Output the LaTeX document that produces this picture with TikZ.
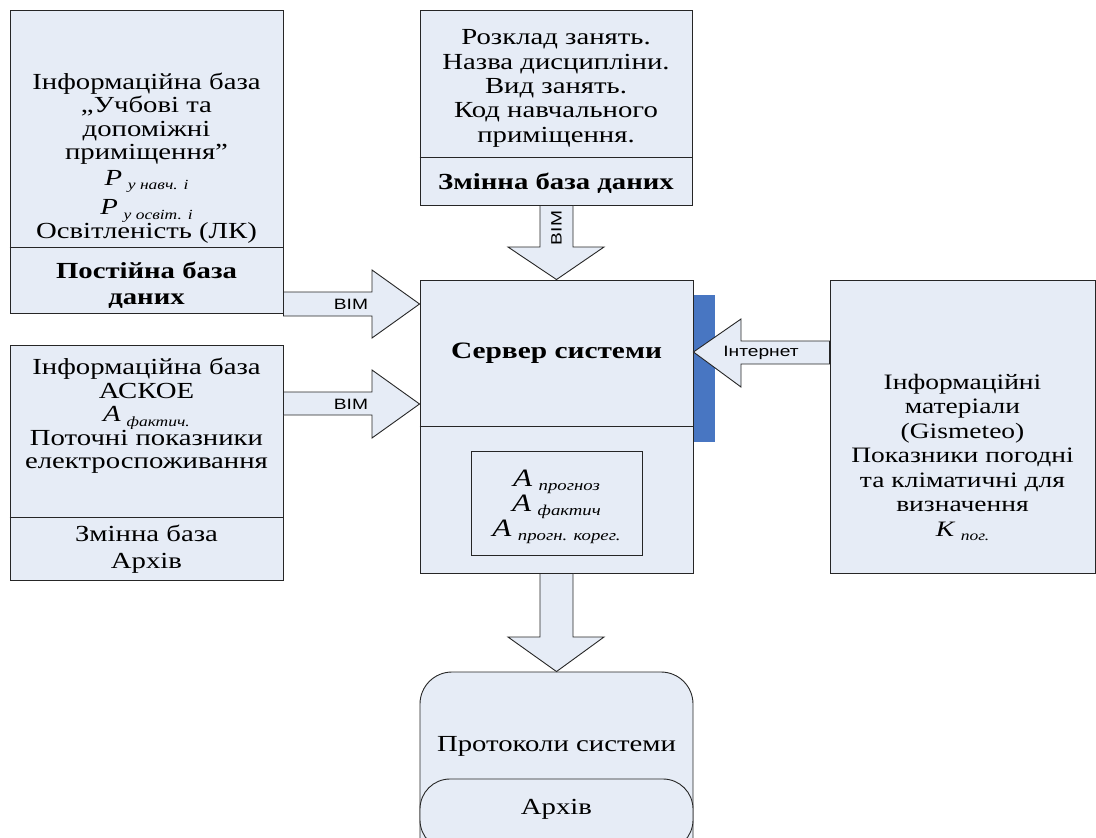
\documentclass[tikz,border=0pt]{standalone}
\usepackage{fontspec}
\setmainfont{Liberation Serif}[FakeStretch=1.25]
\newfontfamily\arialfont{Liberation Sans}[FakeStretch=1.28]
\usetikzlibrary{calc}

\definecolor{boxfill}{RGB}{230,236,246}
\definecolor{barblue}{RGB}{72,118,194}
\newcommand{\ind}[2]{\textit{#1}\hspace{0.25em}\raisebox{-0.4ex}{\fontsize{14}{14}\selectfont\itshape #2}}

\tikzset{
  blk/.style={draw=black!85, line width=0.9pt, fill=boxfill},
  sep/.style={draw=black!85, line width=0.9pt},
  txt/.style={align=center, font=\fontsize{23}{23.5}\selectfont, inner sep=0pt},
  bimlbl/.style={font=\arialfont\fontsize{15}{15}\selectfont, inner sep=0pt},
  fat/.style={blk, line join=miter},
}

\begin{document}
\begin{tikzpicture}[x=1pt, y=-1pt]
\useasboundingbox (0,0) rectangle (1096,838);
\clip (0,0) rectangle (1096,838);

% boxes
\node[blk, minimum width=273pt, minimum height=303pt] (dbA) at (146.5,161.5) {};
\draw[sep] (dbA.west |- 0,247) -- (dbA.east |- 0,247);
\node[txt] (dbAtop) at (146.5,158) {Інформаційна база\\„Учбові та\\допоміжні\\приміщення”\\[2pt]
  \ind{P}{у навч. і}\\[6pt]\ind{P}{у освіт. і}\\Освітленість (ЛК)};
\node[txt, font=\bfseries\fontsize{23}{26}\selectfont] (dbAbot) at (146.5,285) {Постійна база\\даних};

\node[blk, minimum width=273pt, minimum height=235pt] (dbB) at (146.5,462.5) {};
\draw[sep] (dbB.west |- 0,517) -- (dbB.east |- 0,517);
\node[txt] (dbBtop) at (146.5,416) {Інформаційна база\\АСКОЕ\\\ind{A}{фактич.}\\Поточні показники\\електроспоживання};
\node[txt, font=\fontsize{23}{27}\selectfont] (dbBbot) at (146.5,549) {Змінна база\\Архів};

\node[blk, minimum width=272pt, minimum height=195pt] (sched) at (556,107.5) {};
\draw[sep] (sched.west |- 0,157) -- (sched.east |- 0,157);
\node[txt, font=\fontsize{23}{24.3}\selectfont] (schedtop) at (556,88.5) {Розклад занять.\\Назва дисципліни.\\Вид занять.\\Код навчального\\приміщення.};
\node[txt, font=\bfseries\fontsize{23}{24}\selectfont] (schedbot) at (556,183) {Змінна база даних};

\fill[barblue] (693,295) rectangle (715,442);
\node[blk, minimum width=273pt, minimum height=293pt] (srv) at (556.5,426.5) {};
\draw[sep] (srv.west |- 0,426) -- (srv.east |- 0,426);
\node[txt, font=\bfseries\fontsize{23.5}{23}\selectfont] (srvname) at (556.5,353) {Сервер системи};
\node[blk, minimum width=171pt, minimum height=104pt] (fc) at (556.5,503) {};
\node[txt, font=\fontsize{25}{25}\selectfont] (fctxt) at (556.5,507)
  {\ind{A}{\fontsize{15}{15}\selectfont прогноз}\\\ind{A}{\fontsize{15}{15}\selectfont фактич}\\\ind{A}{\fontsize{15}{15}\selectfont прогн. корег.}};

\node[blk, minimum width=265pt, minimum height=293pt] (wx) at (962.5,426.5) {};
\node[txt, font=\fontsize{22}{24.5}\selectfont] (wxtxt) at (962.5,457) {Інформаційні\\матеріали\\(Gismeteo)\\Показники погодні\\та кліматичні для\\визначення\\\ind{K}{пог.}};

\node[blk, rounded corners=32pt, minimum width=273pt, minimum height=200pt] (prot) at (556.5,772) {};
\node[txt] (prottxt) at (556.5,746) {Протоколи системи};
\node[blk, rounded corners=30pt, minimum width=273pt, minimum height=71pt] (arch) at (556.5,814.5) {};
\node[txt] (archtxt) at (556.5,809) {Архів};

% block arrows
\draw[fat] (dbA.east |- 0,292) -- (372,292) -- (372,270) -- (srv.west |- 0,304)
  -- (372,338) -- (372,316) -- (dbA.east |- 0,316) -- cycle;
\node[bimlbl] (lblA) at (351,304) {ВІМ};

\draw[fat] (dbB.east |- 0,392) -- (372,392) -- (372,370) -- (srv.west |- 0,404)
  -- (372,438) -- (372,415) -- (dbB.east |- 0,415) -- cycle;
\node[bimlbl] (lblB) at (351,404) {ВІМ};

\draw[fat] (sched.south -| 540,0) -- (540,247) -- (508,247) -- (srv.north)
  -- (604,247) -- (573,247) -- (sched.south -| 573,0) -- cycle;
\node[bimlbl, rotate=90] (lblC) at (556.5,228) {ВІМ};

\draw[fat] (wx.west |- 0,341) -- (741,341) -- (741,319) -- (srv.east |- 0,352)
  -- (741,387) -- (741,364) -- (wx.west |- 0,364) -- cycle;
\node[bimlbl] (lblD) at (761,353) {Інтернет};

\draw[fat] (srv.south -| 540,0) -- (540,637) -- (508,637) -- (prot.north)
  -- (604,637) -- (573,637) -- (srv.south -| 573,0) -- cycle;
\end{tikzpicture}
\end{document}
